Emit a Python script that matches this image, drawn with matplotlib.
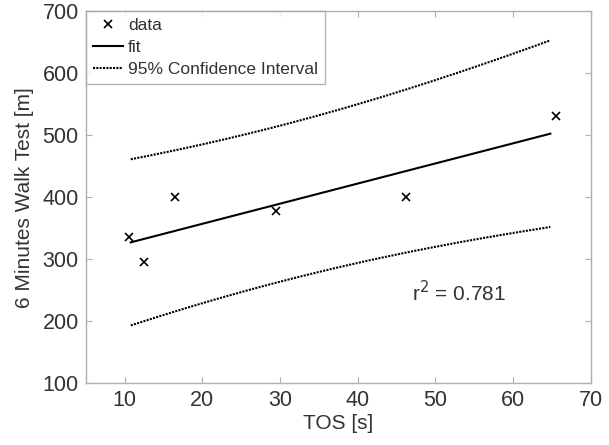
import numpy as np
import matplotlib
matplotlib.use("Agg")
import matplotlib.pyplot as plt

plt.rcParams['font.family'] = ['Liberation Sans', 'DejaVu Sans']

# Data
tos = np.array([10.6, 12.5, 16.5, 29.5, 46.2, 65.5])
walk = np.array([336, 295, 400, 377, 400, 531])

# range over which fit and interval were drawn
fit_start, fit_end = 10.8, 64.8
t_crit = 2.776  # t(0.975, df=4)

# linear fit and 95% prediction interval
slope, intercept = np.polyfit(tos, walk, 1)
xf = np.linspace(fit_start, fit_end, 200)
yf = slope * xf + intercept
n = len(tos)
resid = walk - (slope * tos + intercept)
s = np.sqrt(np.sum(resid ** 2) / (n - 2))
sxx = np.sum((tos - tos.mean()) ** 2)
half = t_crit * s * np.sqrt(1 + 1 / n + (xf - tos.mean()) ** 2 / sxx)
r2 = 1 - np.sum(resid ** 2) / np.sum((walk - walk.mean()) ** 2)

txt = '#333333'

fig = plt.figure(figsize=(6.09, 4.45), dpi=100)
ax = fig.add_axes([0.1407, 0.139, 0.8293, 0.836])

ax.plot(tos, walk, 'x', color='black', markersize=6, markeredgewidth=1.2, label='data')
ax.plot(xf, yf, '-', color='black', linewidth=1.5, label='fit')
ax.plot(xf, yf + half, color='black', linestyle=(0, (1, 0.6)), linewidth=1.5,
        label='95% Confidence Interval')
ax.plot(xf, yf - half, color='black', linestyle=(0, (1, 0.6)), linewidth=1.5)

ax.text(47, 246, 'r$^2$ = %.3f' % r2, fontsize=15, color=txt, va='center')

ax.set_xlim(5, 70)
ax.set_ylim(100, 700)
ax.set_xticks(range(10, 71, 10))
ax.set_yticks(range(100, 701, 100))
ax.set_xlabel('TOS [s]', fontsize=15, color=txt, labelpad=2)
ax.set_ylabel('6 Minutes Walk Test [m]', fontsize=15, color=txt, labelpad=6)
ax.tick_params(direction='in', top=True, right=True, labelsize=15.5,
               labelcolor=txt, length=4, width=0.8, pad=5, color='#b0b0b0')
for sp in ax.spines.values():
    sp.set_color('#b0b0b0')
    sp.set_linewidth(1.0)

leg = ax.legend(loc='upper left', fontsize=12.5, frameon=True, fancybox=False,
                borderaxespad=0, handlelength=1.75, handletextpad=0.3,
                labelspacing=0.38, borderpad=0.4)
leg.get_frame().set_edgecolor('#a0a0a0')
leg.get_frame().set_linewidth(1.0)
for t in leg.get_texts():
    t.set_color(txt)

fig.savefig('out.png', dpi=100)
